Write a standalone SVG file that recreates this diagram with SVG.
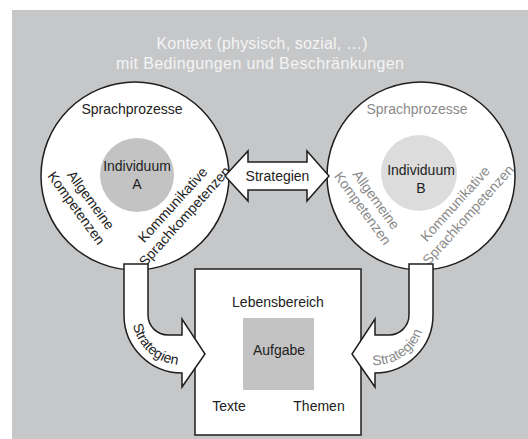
<svg xmlns="http://www.w3.org/2000/svg" width="528" height="439" viewBox="0 0 528 439">
<style>
.t{font-family:"Liberation Sans",Arial,sans-serif;font-size:14px;fill:#222}
.g{fill:#8a8a8a}
.title{font-family:"Liberation Sans",Arial,sans-serif;font-size:16px;fill:#f4f4f4;text-anchor:middle}
.m{text-anchor:middle}
.shape{fill:#fff;stroke:#1e1e1e;stroke-width:1.5;stroke-linejoin:miter}
</style>
<defs>
<path id="arcL" d="M132.8,306.3 A50,50 0 0 0 190.7,364.2"/>
<path id="arcR" d="M357.9,362 A50,50 0 0 0 424.2,306.3"/>
</defs>
<rect x="12" y="10" width="516" height="429" fill="#c6c7c9"/>
<g id="title">
<text class="title" x="262" y="49" textLength="211" lengthAdjust="spacing">Kontext (physisch, sozial, …)</text>
<text class="title" x="260" y="69" textLength="288" lengthAdjust="spacing">mit Bedingungen und Beschränkungen</text>
</g>
<g id="individuumA">
<circle class="shape" cx="135" cy="176" r="94"/>
<circle cx="137" cy="175" r="37" fill="#c3c3c3"/>
<text class="t m" x="132" y="114">Sprachprozesse</text>
<text class="t m" x="137" y="171">Individuum</text>
<text class="t m" x="137" y="189">A</text>
<text class="t m" transform="translate(86.9,202.9) rotate(54)">Allgemeine</text>
<text class="t m" transform="translate(72.4,210.9) rotate(54)">Kompetenzen</text>
<text class="t m" transform="translate(176.3,208) rotate(-48)">Kommunikative</text>
<text class="t m" transform="translate(188.3,219.5) rotate(-48)">Sprachkompetenzen</text>
</g>
<g id="individuumB">
<circle class="shape" cx="421" cy="176" r="94"/>
<circle cx="419" cy="173" r="38" fill="#dcdcdc"/>
<text class="t g m" x="417" y="114">Sprachprozesse</text>
<text class="t m" x="421" y="175">Individuum</text>
<text class="t m" x="421" y="193">B</text>
<text class="t g m" transform="translate(372.3,202.6) rotate(54)">Allgemeine</text>
<text class="t g m" transform="translate(358.8,211.1) rotate(54)">Kompetenzen</text>
<text class="t g m" transform="translate(458.8,207) rotate(-48)">Kommunikative</text>
<text class="t g m" transform="translate(471.8,218) rotate(-48)">Sprachkompetenzen</text>
</g>
<g id="lebensbereich">
<rect class="shape" x="195" y="269" width="166" height="166"/>
<rect x="243" y="318" width="71" height="72" fill="#c3c3c3"/>
<text class="t m" x="278" y="307">Lebensbereich</text>
<text class="t m" x="279" y="355">Aufgabe</text>
<text class="t m" x="229" y="411">Texte</text>
<text class="t m" x="319" y="411">Themen</text>
</g>
<g id="connectors">
<path class="shape" d="M124,264 L148,264 L148,315 A20,20 0 0 0 168,335 L182,335 L182,319 L205,354 L182,387 L182,373 A58,58 0 0 1 124,315 Z"/>
<path class="shape" d="M433,264 L409,264 L409,315 A20,20 0 0 1 389,335 L375,335 L375,319 L352,354 L375,387 L375,373 A58,58 0 0 0 433,315 Z"/>
<path class="shape" d="M225,176 L248,151 L248,162 L307,162 L307,151 L329,176 L307,201 L307,190 L248,190 L248,201 Z"/>
<text class="t m" x="277.5" y="181">Strategien</text>
<text class="t"><textPath href="#arcL" startOffset="50.6" text-anchor="middle">Strategien</textPath></text>
<text class="t g"><textPath href="#arcR" startOffset="47.1" text-anchor="middle">Strategien</textPath></text>
</g>
</svg>
